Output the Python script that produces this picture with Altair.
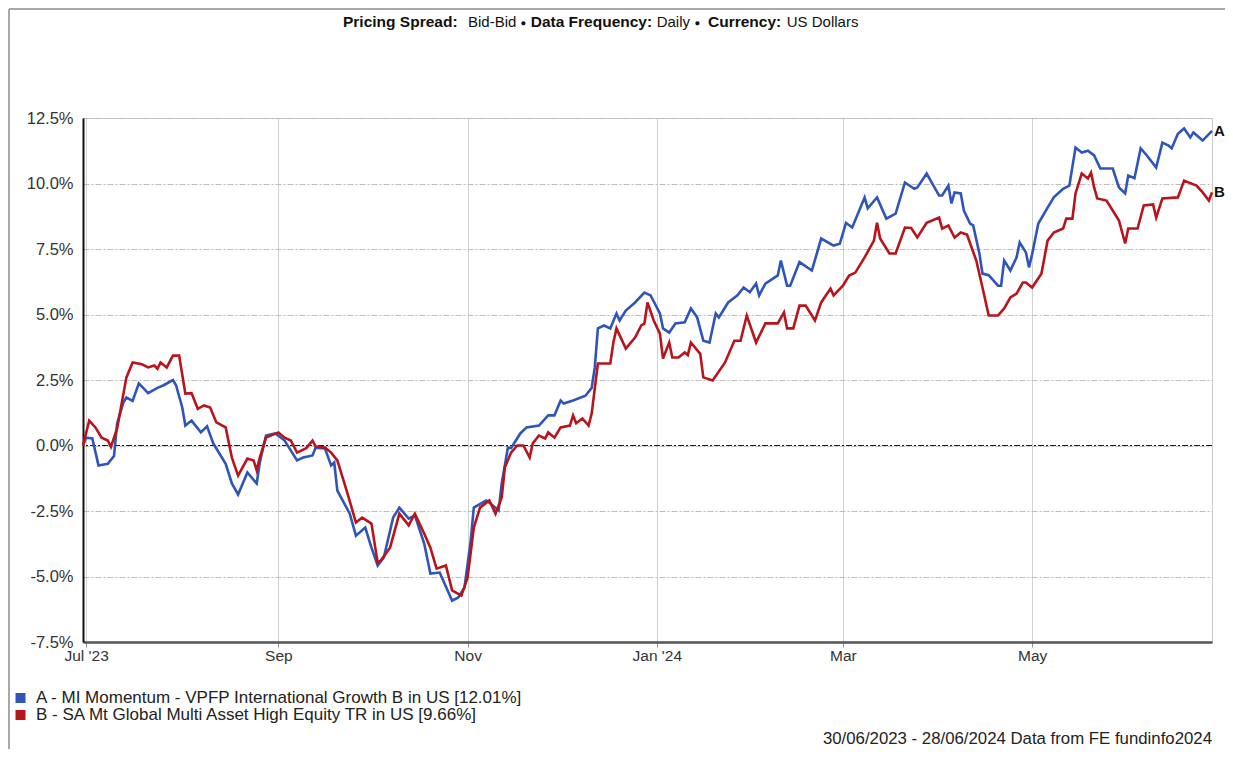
import json
import altair as alt
import pandas as pd

# ---------------- data ----------------
series_names = [
    "A - MI Momentum - VPFP International Growth B in US [12.01%]",
    "B - SA Mt Global Multi Asset High Equity TR in US [9.66%]",
]
series_tags = ["A", "B"]
series_colors = ["#2f55b8", "#b8141c"]

a_dates = [
    "2023-06-30", "2023-07-01", "2023-07-03", "2023-07-05", "2023-07-08", "2023-07-10", "2023-07-11", "2023-07-13",
    "2023-07-14", "2023-07-16", "2023-07-18", "2023-07-21", "2023-07-24", "2023-07-26", "2023-07-29", "2023-07-30",
    "2023-08-01", "2023-08-02", "2023-08-04", "2023-08-07", "2023-08-09", "2023-08-11", "2023-08-15", "2023-08-17",
    "2023-08-19", "2023-08-22", "2023-08-25", "2023-08-26", "2023-08-28", "2023-08-31", "2023-09-03", "2023-09-07",
    "2023-09-09", "2023-09-12", "2023-09-13", "2023-09-16", "2023-09-18", "2023-09-19", "2023-09-20", "2023-09-24",
    "2023-09-26", "2023-09-29", "2023-10-01", "2023-10-03", "2023-10-05", "2023-10-08", "2023-10-10", "2023-10-13",
    "2023-10-15", "2023-10-18", "2023-10-20", "2023-10-23", "2023-10-27", "2023-10-29", "2023-10-31", "2023-11-02",
    "2023-11-03", "2023-11-07", "2023-11-08", "2023-11-11", "2023-11-12", "2023-11-14", "2023-11-15", "2023-11-18",
    "2023-11-20", "2023-11-24", "2023-11-27", "2023-11-29", "2023-12-01", "2023-12-02", "2023-12-05", "2023-12-09",
    "2023-12-11", "2023-12-12", "2023-12-13", "2023-12-15", "2023-12-17", "2023-12-19", "2023-12-20", "2023-12-22",
    "2023-12-25", "2023-12-28", "2023-12-30", "2024-01-02", "2024-01-03", "2024-01-05", "2024-01-07", "2024-01-10",
    "2024-01-12", "2024-01-14", "2024-01-16", "2024-01-18", "2024-01-20", "2024-01-21", "2024-01-24", "2024-01-27",
    "2024-01-29", "2024-01-31", "2024-02-02", "2024-02-03", "2024-02-05", "2024-02-09", "2024-02-10", "2024-02-12",
    "2024-02-13", "2024-02-16", "2024-02-20", "2024-02-23", "2024-02-27", "2024-02-29", "2024-03-02", "2024-03-04",
    "2024-03-08", "2024-03-09", "2024-03-12", "2024-03-15", "2024-03-18", "2024-03-21", "2024-03-24", "2024-03-25",
    "2024-03-28", "2024-04-01", "2024-04-02", "2024-04-04", "2024-04-05", "2024-04-06", "2024-04-08", "2024-04-09",
    "2024-04-11", "2024-04-12", "2024-04-14", "2024-04-15", "2024-04-17", "2024-04-18", "2024-04-20", "2024-04-21",
    "2024-04-22", "2024-04-24", "2024-04-26", "2024-04-27", "2024-04-29", "2024-04-30", "2024-05-01", "2024-05-03",
    "2024-05-06", "2024-05-08", "2024-05-11", "2024-05-13", "2024-05-15", "2024-05-17", "2024-05-19", "2024-05-21",
    "2024-05-23", "2024-05-27", "2024-05-29", "2024-05-31", "2024-06-01", "2024-06-03", "2024-06-05", "2024-06-07",
    "2024-06-10", "2024-06-12", "2024-06-14", "2024-06-15", "2024-06-17", "2024-06-19", "2024-06-21", "2024-06-22",
    "2024-06-25", "2024-06-28",
]
a_values = [
    0.0, 0.3, 0.27, -0.76, -0.7, -0.4, 0.84, 1.64,
    1.83, 1.7, 2.37, 2.0, 2.2, 2.3, 2.5, 2.3,
    1.45, 0.76, 0.95, 0.5, 0.73, 0.08, -0.7, -1.45,
    -1.87, -1.03, -1.45, -0.65, 0.38, 0.46, 0.19, -0.57,
    -0.46, -0.38, -0.08, -0.11, -0.76, -0.65, -1.72, -2.6,
    -3.44, -3.13, -3.9, -4.58, -4.27, -2.75, -2.37, -2.79,
    -2.67, -3.74, -4.89, -4.85, -5.92, -5.8, -5.42, -3.63,
    -2.37, -2.1, -2.18, -2.48, -1.45, -0.08, -0.1, 0.46,
    0.69, 0.76, 1.15, 1.15, 1.72, 1.6, 1.72, 1.9,
    2.2, 2.98, 4.47, 4.58, 4.47, 5.04, 4.77, 5.15,
    5.46, 5.84, 5.73, 5.04, 4.47, 4.31, 4.66, 4.7,
    5.23, 4.89, 4.0, 3.93, 5.04, 4.89, 5.46, 5.73,
    6.03, 5.85, 6.18, 5.73, 6.18, 6.49, 7.06, 6.1,
    6.1, 7.0, 6.68, 7.9, 7.63, 7.7, 8.5, 8.32,
    9.47, 9.05, 9.47, 8.66, 8.85, 10.04, 9.8, 9.85,
    10.38, 9.54, 9.54, 9.92, 9.24, 9.66, 9.62, 8.97,
    8.47, 8.4, 7.33, 6.56, 6.5, 6.37, 6.1, 6.1,
    7.06, 6.68, 7.18, 7.75, 7.37, 6.8, 7.3, 8.47,
    9.08, 9.47, 9.8, 9.92, 11.37, 11.18, 11.25, 11.07,
    10.57, 10.57, 9.85, 9.62, 10.3, 10.2, 11.34, 11.07,
    10.61, 11.56, 11.45, 11.34, 11.9, 12.1, 11.76, 11.95,
    11.64, 12.01,
]

b_dates = [
    "2023-06-30", "2023-07-02", "2023-07-04", "2023-07-06", "2023-07-08", "2023-07-09", "2023-07-11", "2023-07-14",
    "2023-07-16", "2023-07-19", "2023-07-21", "2023-07-23", "2023-07-24", "2023-07-25", "2023-07-27", "2023-07-29",
    "2023-07-31", "2023-08-02", "2023-08-04", "2023-08-06", "2023-08-08", "2023-08-10", "2023-08-12", "2023-08-15",
    "2023-08-17", "2023-08-19", "2023-08-22", "2023-08-24", "2023-08-25", "2023-08-26", "2023-08-28", "2023-09-01",
    "2023-09-03", "2023-09-05", "2023-09-07", "2023-09-10", "2023-09-12", "2023-09-13", "2023-09-16", "2023-09-18",
    "2023-09-20", "2023-09-23", "2023-09-26", "2023-09-28", "2023-10-01", "2023-10-03", "2023-10-04", "2023-10-07",
    "2023-10-10", "2023-10-13", "2023-10-15", "2023-10-18", "2023-10-20", "2023-10-22", "2023-10-25", "2023-10-27",
    "2023-10-30", "2023-11-01", "2023-11-03", "2023-11-05", "2023-11-08", "2023-11-10", "2023-11-12", "2023-11-13",
    "2023-11-15", "2023-11-17", "2023-11-19", "2023-11-21", "2023-11-22", "2023-11-24", "2023-11-26", "2023-11-27",
    "2023-11-29", "2023-12-01", "2023-12-04", "2023-12-05", "2023-12-06", "2023-12-08", "2023-12-10", "2023-12-11",
    "2023-12-13", "2023-12-17", "2023-12-18", "2023-12-19", "2023-12-22", "2023-12-25", "2023-12-27", "2023-12-28",
    "2023-12-29", "2023-12-31", "2024-01-02", "2024-01-03", "2024-01-05", "2024-01-06", "2024-01-08", "2024-01-10",
    "2024-01-11", "2024-01-12", "2024-01-15", "2024-01-16", "2024-01-19", "2024-01-23", "2024-01-26", "2024-01-28",
    "2024-01-30", "2024-02-02", "2024-02-05", "2024-02-09", "2024-02-11", "2024-02-12", "2024-02-14", "2024-02-16",
    "2024-02-18", "2024-02-21", "2024-02-23", "2024-02-26", "2024-02-27", "2024-03-01", "2024-03-03", "2024-03-05",
    "2024-03-08", "2024-03-11", "2024-03-12", "2024-03-13", "2024-03-16", "2024-03-18", "2024-03-21", "2024-03-23",
    "2024-03-25", "2024-03-28", "2024-04-01", "2024-04-02", "2024-04-04", "2024-04-06", "2024-04-08", "2024-04-10",
    "2024-04-13", "2024-04-15", "2024-04-17", "2024-04-20", "2024-04-22", "2024-04-24", "2024-04-26", "2024-04-28",
    "2024-04-29", "2024-05-01", "2024-05-04", "2024-05-06", "2024-05-08", "2024-05-11", "2024-05-12", "2024-05-14",
    "2024-05-15", "2024-05-17", "2024-05-19", "2024-05-20", "2024-05-21", "2024-05-22", "2024-05-25", "2024-05-29",
    "2024-05-31", "2024-06-01", "2024-06-04", "2024-06-06", "2024-06-09", "2024-06-10", "2024-06-12", "2024-06-17",
    "2024-06-19", "2024-06-23", "2024-06-25", "2024-06-27", "2024-06-28",
]
b_values = [
    0.0, 0.95, 0.69, 0.3, 0.19, -0.05, 0.65, 2.6,
    3.17, 3.1, 2.98, 3.05, 2.93, 3.17, 2.98, 3.43,
    3.43, 1.98, 2.0, 1.4, 1.53, 1.45, 0.88, 0.69,
    -0.46, -1.15, -0.5, -0.57, -0.95, -0.46, 0.3, 0.5,
    0.3, 0.19, -0.27, -0.1, 0.19, -0.04, -0.08, -0.27,
    -0.57, -1.72, -2.94, -2.75, -2.98, -4.47, -4.39, -3.9,
    -2.6, -3.05, -2.6, -3.36, -3.9, -4.7, -4.58, -5.53,
    -5.73, -5.04, -3.13, -2.37, -2.1, -2.6, -1.98, -0.84,
    -0.27, 0.0, 0.0, -0.46, 0.08, 0.38, 0.27, 0.5,
    0.3, 0.69, 0.76, 1.15, 0.85, 1.03, 0.76, 1.22,
    3.13, 3.13, 3.93, 4.47, 3.7, 4.12, 4.58, 4.65,
    5.46, 4.77, 4.27, 3.32, 3.93, 3.36, 3.36, 3.55,
    3.45, 3.93, 3.5, 2.6, 2.48, 3.17, 4.0, 4.0,
    4.96, 3.93, 4.66, 4.66, 5.08, 4.47, 4.47, 5.34,
    5.34, 4.77, 5.46, 5.99, 5.73, 6.1, 6.49, 6.6,
    7.18, 7.82, 8.5, 7.9, 7.33, 7.33, 8.32, 8.3,
    7.94, 8.5, 8.7, 8.28, 8.4, 7.94, 8.13, 8.05,
    7.06, 6.03, 4.96, 4.96, 5.23, 5.65, 5.8, 6.22,
    6.22, 6.03, 6.56, 7.82, 8.13, 8.28, 8.66, 8.66,
    9.62, 10.38, 10.19, 10.42, 9.85, 9.43, 9.35, 8.59,
    7.71, 8.28, 8.28, 9.16, 9.2, 8.7, 9.43, 9.47,
    10.11, 9.92, 9.66, 9.35, 9.66,
]

y_ticks = [-7.5, -5.0, -2.5, 0.0, 2.5, 5.0, 7.5, 10.0, 12.5]
x_tick_dates = ["2023-07-01", "2023-09-01", "2023-11-01", "2024-01-01", "2024-03-01", "2024-05-01"]
x_tick_labels = ["Jul '23", "Sep", "Nov", "Jan '24", "Mar", "May"]
x_domain = ["2023-06-30", "2024-06-28"]
y_domain = [-7.5, 12.5]
zero_line = [0.0]

header_parts = ["Pricing Spread:", "Bid-Bid", "\u25cf", "Data Frequency:", "Daily", "\u25cf", "Currency:", "US Dollars"]
header_kind = ["bold", "normal", "dot", "bold", "normal", "dot", "bold", "normal"]
footer_text = "30/06/2023 - 28/06/2024 Data from FE fundinfo2024"

# ---------------- tables ----------------
assert len(a_dates) == len(a_values) and len(b_dates) == len(b_values)
df = pd.concat([
    pd.DataFrame({"date": a_dates, "value": a_values, "series": series_names[0]}),
    pd.DataFrame({"date": b_dates, "value": b_values, "series": series_names[1]}),
], ignore_index=True)
ends = pd.DataFrame({
    "date": [a_dates[-1], b_dates[-1]],
    "value": [a_values[-1], b_values[-1]],
    "tag": series_tags,
})


def utc_dt(s):
    t = pd.Timestamp(s)
    return alt.DateTime(year=t.year, month=t.month, date=t.day, utc=True)


tick_ms = [int(pd.Timestamp(d, tz="UTC").value // 10**6) for d in x_tick_dates]
x_label_expr = f"{json.dumps(x_tick_labels)}[indexof({json.dumps(tick_ms)}, +datum.value)]"

FONT = "Liberation Sans, Arial, sans-serif"
W, H = 1129, 524

x_enc = alt.X(
    "date:T",
    scale=alt.Scale(type="utc", domain=[utc_dt(d) for d in x_domain], nice=False),
    axis=alt.Axis(
        values=[utc_dt(d) for d in x_tick_dates], labelExpr=x_label_expr, title=None,
        grid=True, gridColor="#d2d2d2", gridWidth=1,
        tickSize=5, tickColor="#8a8a8a", domainColor="#555555", domainWidth=2.5,
        labelFont=FONT, labelFontSize=15.5, labelColor="#333333", labelPadding=1,
        labelOverlap=False, labelFlush=False,
    ),
)
y_scale = alt.Scale(domain=y_domain, nice=False, zero=False)
y_enc = alt.Y(
    "value:Q", scale=y_scale,
    axis=alt.Axis(
        values=y_ticks, format=".1f", labelExpr="replace(datum.label, '\u2212', '-') + '%'",
        title=None, grid=True, gridColor="#bdbdbd", gridDash=[6, 2, 2, 2], gridWidth=1,
        tickSize=0, domainColor="#111111", domainWidth=2,
        labelFont=FONT, labelFontSize=16.5, labelColor="#333333", labelPadding=10,
    ),
)

lines = alt.Chart(df).mark_line(strokeWidth=2.6, strokeJoin="miter").encode(
    x=x_enc,
    y=y_enc,
    color=alt.Color(
        "series:N",
        scale=alt.Scale(domain=series_names, range=series_colors),
        legend=alt.Legend(
            orient="none", legendX=-71, legendY=572, title=None,
            symbolType="square", symbolSize=25, symbolStrokeWidth=5,
            labelFont=FONT, labelFontSize=17, labelColor="#222222",
            labelOffset=7, rowPadding=0, padding=0, labelLimit=1000, clipHeight=16,
        ),
    ),
    detail="series:N",
)

zero_rule = alt.Chart(pd.DataFrame({"v": zero_line})).mark_rule(
    color="#1a1a1a", strokeDash=[6, 2, 2, 2], strokeWidth=1
).encode(y=alt.Y("v:Q", scale=y_scale))

end_labels = alt.Chart(ends).mark_text(
    align="left", baseline="middle", dx=2, font=FONT, fontSize=15, fontWeight="bold", color="#111111"
).encode(x=alt.X("date:T"), y=alt.Y("value:Q"), text="tag:N")

one = pd.DataFrame({"k": [0]})
header_x = [260, 385, 437.5, 447.7, 573.7, 611.5, 625, 703.7]
header_layers = []
for txt, kind, hx in zip(header_parts, header_kind, header_x):
    header_layers.append(
        alt.Chart(one).mark_text(
            text=txt, align="left", baseline="middle", font=FONT,
            fontSize={"bold": 15.5, "normal": 15, "dot": 9.5}[kind],
            fontWeight="bold" if kind == "bold" else "normal", color="#111111",
        ).encode(x=alt.value(hx), y=alt.value(-96 if kind != "dot" else -95))
    )

footer = alt.Chart(one).mark_text(
    text=footer_text, align="right", baseline="middle", font=FONT, fontSize=16.8, color="#222222"
).encode(x=alt.value(1129), y=alt.value(621))

frame_top = alt.Chart(one).mark_rule(color="#a8a8a8", strokeWidth=2).encode(
    x=alt.value(-74), x2=alt.value(1142), y=alt.value(-109)
)
frame_left = alt.Chart(one).mark_rule(color="#a8a8a8", strokeWidth=2).encode(
    x=alt.value(-74), y=alt.value(-109), y2=alt.value(640)
)

chart = alt.layer(
    zero_rule, lines, end_labels, *header_layers, footer, frame_top, frame_left
).properties(
    width=W, height=H,
    autosize=alt.AutoSizeParams(type="none"),
    padding={"left": 75, "top": 110, "right": 13, "bottom": 107},
    background="white",
).configure_view(
    stroke="#cccccc", strokeWidth=1,
).configure_axis(
    labelFont=FONT,
)

chart.save("out.html", embed_options={"renderer": "svg", "actions": False})
